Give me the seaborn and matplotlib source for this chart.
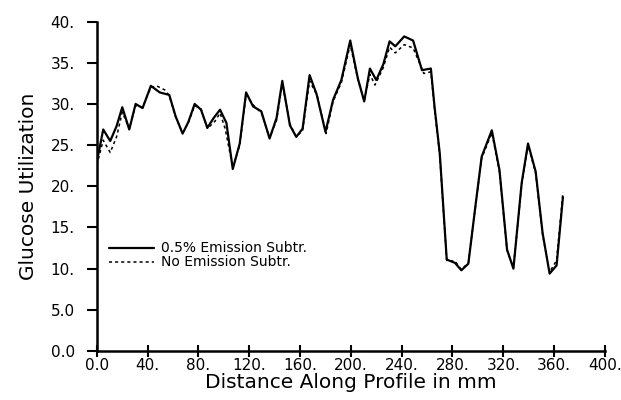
import pandas as pd
import matplotlib
matplotlib.use("Agg")
import matplotlib.pyplot as plt
import seaborn as sns

# profile distance (mm) and glucose utilization
dist_a = [0, 5, 10.5, 15.5, 20, 25.5, 30.5, 36, 42.5, 49.5, 57, 62, 67.5, 72, 77, 82, 87, 92, 97, 102,
          107, 112.5, 117.5, 123, 129.5, 136, 141.5, 146, 152, 157, 162, 167.5, 173, 180, 186, 192.5,
          199.5, 205.5, 210.5, 215, 220, 225.5, 230.5, 235, 242, 249, 256, 263, 266, 270, 275.5, 282,
          287, 292.5, 298, 303, 311, 317, 323, 328, 334.5, 339.5, 345.5, 351, 356.5, 362, 367]
with_subtr = [23.0, 26.9, 25.5, 27.3, 29.6, 26.9, 30.0, 29.5, 32.2, 31.4, 31.1, 28.5, 26.4, 27.8, 30.0,
              29.3, 27.1, 28.3, 29.3, 27.7, 22.1, 25.2, 31.4, 29.7, 29.1, 25.8, 28.3, 32.8, 27.4, 26.0,
              27.0, 33.5, 31.2, 26.6, 30.5, 32.9, 37.7, 33.1, 30.3, 34.3, 32.9, 34.8, 37.6, 37.0, 38.2,
              37.7, 34.1, 34.3, 29.5, 24.0, 11.1, 10.7, 9.8, 10.6, 17.5, 23.6, 26.8, 22.0, 12.3, 10.0,
              20.4, 25.2, 21.8, 14.3, 9.4, 10.4, 18.7]

dist_b = [0, 5, 10.5, 15.5, 20, 25.5, 30.5, 36, 42.5, 47, 53.5, 57, 62, 67.5, 72, 77, 82, 87, 93, 97,
          101, 107, 112.5, 117.5, 123, 129.5, 136, 141.5, 146, 152, 157, 162, 167.5, 173.5, 180.5, 186,
          192.5, 199.5, 205.5, 210.5, 215, 219, 225.5, 230.5, 235, 242, 249, 257.5, 263, 266, 270,
          275.5, 282, 287, 292.5, 298, 303, 311, 317, 323, 328, 334.5, 339.5, 345.5, 351, 356.5, 362, 367]
no_subtr = [22.6, 25.6, 24.1, 26.0, 29.0, 27.0, 29.8, 29.6, 32.0, 32.2, 31.7, 31.0, 28.4, 26.5, 27.7,
            29.8, 29.4, 27.0, 27.9, 28.9, 27.0, 22.3, 25.0, 31.1, 29.9, 28.9, 25.9, 28.0, 32.5, 27.6,
            26.0, 26.8, 32.8, 31.0, 26.4, 30.3, 32.6, 37.2, 33.0, 30.4, 33.6, 32.3, 34.4, 36.9, 36.2,
            37.2, 36.8, 33.7, 33.9, 29.2, 23.8, 11.0, 10.9, 9.9, 10.7, 17.4, 23.4, 26.5, 21.8, 12.2,
            10.1, 20.2, 25.0, 21.6, 14.1, 9.6, 11.0, 19.3]

xticks = [0, 40, 80, 120, 160, 200, 240, 280, 320, 360, 400]
xticklabels = ["0.0", "40.", "80.", "120.", "160.", "200.", "240.", "280.", "320.", "360.", "400."]
yticks = [0, 5, 10, 15, 20, 25, 30, 35, 40]
yticklabels = ["0.0", "5.0", "10.", "15.", "20.", "25.", "30.", "35.", "40."]

df_a = pd.DataFrame({"dist": dist_a, "util": with_subtr})
df_b = pd.DataFrame({"dist": dist_b, "util": no_subtr})

sns.set_style("ticks")
plt.rcParams["font.family"] = ["DejaVu Sans"]
plt.rcParams["text.color"] = "black"
plt.rcParams["axes.labelcolor"] = "black"
plt.rcParams["xtick.color"] = "black"
plt.rcParams["ytick.color"] = "black"
plt.rcParams["axes.edgecolor"] = "black"

fig = plt.figure(figsize=(6.21, 4), dpi=100)
ax = fig.add_axes([0.156, 0.1225, 0.818, 0.8235])

sns.lineplot(data=df_a, x="dist", y="util", ax=ax, color="black", linewidth=1.6,
             label="0.5% Emission Subtr.")
sns.lineplot(data=df_b, x="dist", y="util", ax=ax, color="black", linewidth=1.1,
             linestyle=(0, (2, 2)), label="No Emission Subtr.")

ax.set_xlim(0, 400)
ax.set_ylim(0, 40)
ax.set_xticks(xticks)
ax.set_xticklabels(xticklabels, fontsize=11)
ax.set_yticks(yticks)
ax.set_yticklabels(yticklabels, fontsize=11)
ax.tick_params(axis="x", direction="inout", length=8, width=1.5, pad=1)
ax.tick_params(axis="y", direction="out", length=7, width=1.5, pad=9)
sns.despine(ax=ax)
ax.spines["left"].set_linewidth(1.8)
ax.spines["bottom"].set_linewidth(1.8)

ax.set_xlabel("Distance Along Profile in mm", fontsize=14.5, labelpad=0)
ax.set_ylabel("Glucose Utilization", fontsize=14.5, labelpad=9)

ax.legend(loc="center left", bbox_to_anchor=(0.0, 0.29), frameon=False, fontsize=10,
          handlelength=3.2, handletextpad=0.5, labelspacing=0.0)

fig.savefig("out.png", dpi=100)
